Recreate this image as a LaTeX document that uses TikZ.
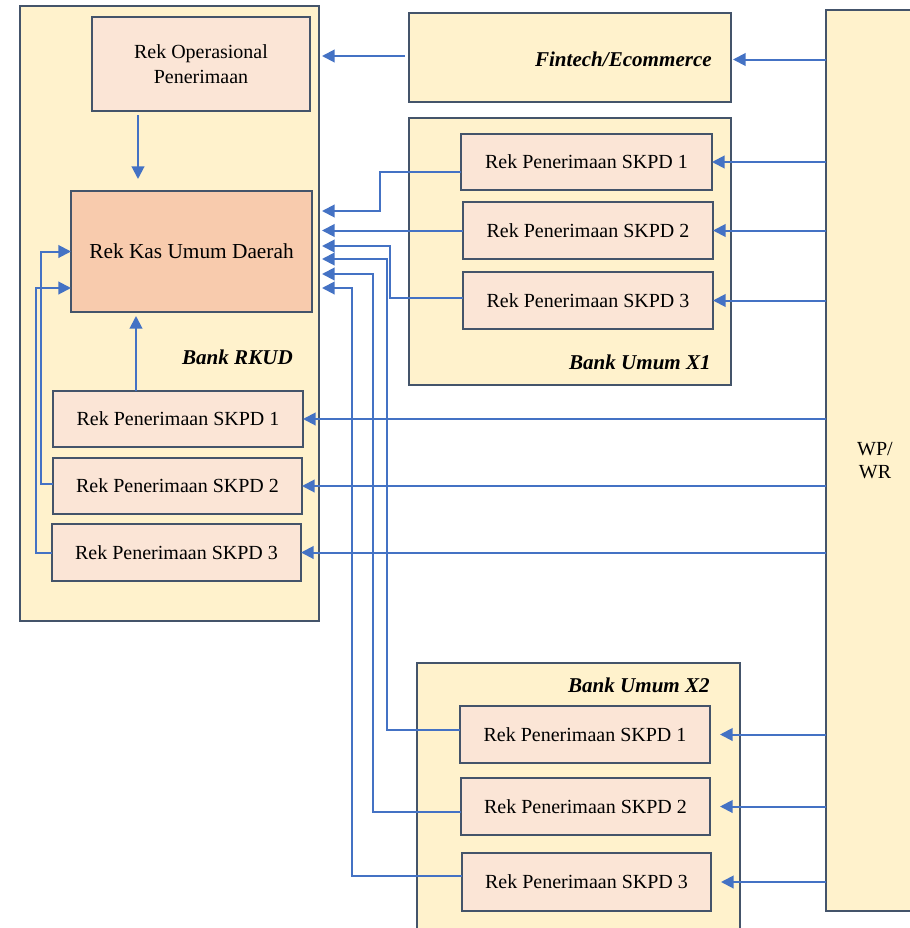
\documentclass[tikz,border=0pt]{standalone}
\usepackage{fontspec}
\setmainfont{Liberation Serif}
\usetikzlibrary{arrows.meta,calc}
\definecolor{outerfill}{HTML}{FFF2CC}
\definecolor{innerfill}{HTML}{FBE5D6}
\definecolor{kasfill}{HTML}{F8CBAD}
\definecolor{edgecol}{HTML}{44546A}
\definecolor{flow}{HTML}{4472C4}
\newcommand\bx[7]{\node[#6, minimum width={(#4-#2)*0.75pt}, minimum height={(#5-#3)*0.75pt}] (#1) at ({(#2+#4)/2},{(#3+#5)/2}) {#7};}
\begin{document}
\begin{tikzpicture}[x=0.75pt,y=-0.75pt,
  box/.style={draw=edgecol, line width=1.5pt, inner sep=0pt, outer sep=0pt, font=\fontsize{15}{18}\selectfont, align=center},
  outerbox/.style={box, fill=outerfill},
  acct/.style={box, fill=innerfill},
  kasbox/.style={box, fill=kasfill, font=\fontsize{16}{19}\selectfont},
  banklabel/.style={font=\fontsize{15.8}{18}\selectfont\bfseries\itshape, anchor=east, inner sep=0pt},
  arr/.style={draw=flow, line width=1.5pt, -{Triangle[length=9.5pt,width=9.5pt]}}]
\useasboundingbox (0,0) rectangle (910,928);
\clip (0,0) rectangle (910,928);
% containers
\bx{rkud}{20}{6}{319}{621}{outerbox}{}
\bx{fin}{409}{13}{731}{102}{outerbox}{}
\bx{x1}{409}{118}{731}{385}{outerbox}{}
\bx{x2}{417}{663}{740}{960}{outerbox}{}
\bx{wp}{826}{10}{924}{911}{outerbox, font=\fontsize{15}{17}\selectfont}{WP/\\WR}
% accounts
\bx{ops}{92}{17}{310}{111}{acct}{Rek Operasional\\[1pt]Penerimaan}
\bx{kas}{71}{191}{312}{312}{kasbox}{Rek Kas Umum Daerah}
\bx{r1}{53}{391}{303}{447}{acct}{Rek Penerimaan SKPD 1}
\bx{r2}{53}{458}{302}{514}{acct}{Rek Penerimaan SKPD 2}
\bx{r3}{52}{524}{301}{581}{acct}{Rek Penerimaan SKPD 3}
\bx{a1}{461}{134}{712}{190}{acct}{Rek Penerimaan SKPD 1}
\bx{a2}{463}{202}{713}{259}{acct}{Rek Penerimaan SKPD 2}
\bx{a3}{463}{272}{713}{329}{acct}{Rek Penerimaan SKPD 3}
\bx{b1}{460}{706}{710}{763}{acct}{Rek Penerimaan SKPD 1}
\bx{b2}{461}{778}{710}{835}{acct}{Rek Penerimaan SKPD 2}
\bx{b3}{462}{853}{711}{911}{acct}{Rek Penerimaan SKPD 3}
% labels
\node[banklabel] (lrkud) at (293,357) {Bank RKUD};
\node[banklabel] (lfin) at (712,59) {Fintech/Ecommerce};
\node[banklabel] (lx1) at (711,362) {Bank Umum X1};
\node[banklabel] (lx2) at (710,685) {Bank Umum X2};
% helper points
\coordinate (k1) at ($(kas.east)+(10,-40.5)$);
\coordinate (k3) at ($(kas.east)+(10,-5.5)$);
\coordinate (k4) at ($(kas.east)+(10,7.5)$);
\coordinate (k5) at ($(kas.east)+(10,22.5)$);
\coordinate (k6) at ($(kas.east)+(10,36.5)$);
\coordinate (opsout) at ($(ops.south)+(-63,4)$);
\coordinate (kastop) at ($(kas.north -| opsout)+(0,-12)$);
\coordinate (r1out) at ($(r1.north)+(-42,0)$);
\coordinate (kasbot) at ($(kas.south -| r1out)+(0,4)$);
% connectors
\draw[arr] ($(wp.west |- fin.east)+(0,2)$) -- ($(fin.east)+(2,2)$);
\draw[arr] ($(fin.west)+(-4,-1.5)$) -- ($(rkud.east |- fin.west)+(3,-1.5)$);
\draw[arr] (opsout) -- (kastop);
\draw[arr] (r1out) -- (kasbot);
\draw[arr] ($(r2.west)+(0,-2)$) -- ++(-12,0) |- (kas.west);
\draw[arr] (r3.west) -- ++(-16,0) |- ($(kas.west)+(0,36.5)$);
\draw[arr] (wp.west |- r1.east) -- (r1.east);
\draw[arr] (wp.west |- r2.east) -- (r2.east);
\draw[arr] (wp.west |- r3.east) -- (r3.east);
\draw[arr] (wp.west |- a1.east) -- (a1.east);
\draw[arr] (wp.west |- a2.east) -- (a2.east);
\draw[arr] (wp.west |- a3.east) -- (a3.east);
\draw[arr] (wp.west |- b1.east) -- ($(b1.east)+(10,0)$);
\draw[arr] (wp.west |- b2.east) -- ($(b2.east)+(10,0)$);
\draw[arr] (wp.west |- b3.east) -- ($(b3.east)+(10,0)$);
\draw[arr] ($(a1.west)+(0,10)$) -| ($(k1)+(58,0)$) -- (k1);
\draw[arr] (a2.west) -- (a2.west -| k1);
\draw[arr] ($(a3.west)+(0,-2.5)$) -| ($(k3)+(68,0)$) -- (k3);
\draw[arr] ($(b1.west)+(0,-4.5)$) -| ($(k4)+(65,0)$) -- (k4);
\draw[arr] ($(b2.west)+(0,5)$) -| ($(k5)+(51,0)$) -- (k5);
\draw[arr] ($(b3.west)+(0,-6)$) -| ($(k6)+(30,0)$) -- (k6);
\end{tikzpicture}
\end{document}
